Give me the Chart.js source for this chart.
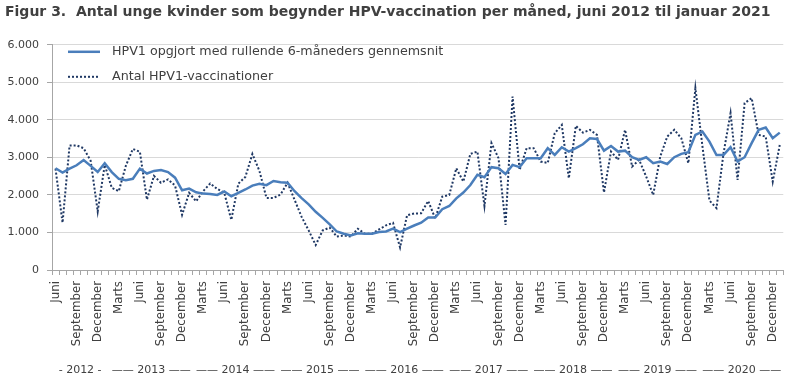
<!DOCTYPE html>
<html><head><meta charset="utf-8">
<script src="https://cdn.jsdelivr.net/npm/chart.js@4"></script>
<style>html,body{margin:0;padding:0;background:#fff}#wrap{width:800px;height:381px}</style>
</head><body><div id="wrap"><canvas id="c" width="800" height="381"></canvas></div>
<script>
const titleText = 'Figur 3.  Antal unge kvinder som begynder HPV-vaccination per måned, juni 2012 til januar 2021';
const monthNames = ['Januar','Februar','Marts','April','Maj','Juni','Juli','August','September','Oktober','November','December'];
const startYear = 2012;
const startMonthIndex = 5; // juni
const shownMonths = ['Juni','September','December','Marts'];

const rollingAvg = [
  2710,2595,2700,2790,2930,2775,2610,
  2845,2610,2430,2395,2430,2700,2570,2640,2665,2610,2460,2125,
  2170,2070,2035,2025,2000,2090,1965,2055,2145,2250,2300,2260,
  2370,2340,2325,2100,1915,1750,1550,1390,1215,1025,965,920,
  980,965,965,1010,1025,1100,1010,1100,1185,1260,1400,1400,
  1620,1705,1910,2065,2265,2535,2470,2740,2710,2560,2800,2740,
  2980,2975,2980,3245,3065,3270,3155,3245,3350,3510,3490,3180,
  3305,3155,3180,3005,2935,3005,2845,2890,2825,3005,3095,3140,
  3600,3690,3420,3065,3065,3270,2890,3005,3380,3735,3795,3510,
  3660
];
const vaccinations = [
  2700,1260,3315,3320,3245,2910,1560,
  2800,2190,2100,2775,3225,3150,1875,2505,2325,2415,2250,1470,
  2055,1830,2100,2305,2160,2055,1335,2300,2480,3090,2640,1920,
  1920,2010,2325,1870,1415,1055,665,1055,1130,890,920,890,
  1100,965,965,1080,1190,1255,600,1460,1505,1510,1840,1375,
  1955,2000,2710,2355,3095,3155,1705,3380,2980,1200,4620,2665,
  3245,3245,2890,2850,3645,3865,2445,3840,3660,3735,3600,2065,
  3155,2935,3735,2755,2935,2490,2000,3020,3555,3735,3510,2845,
  4845,3300,1850,1650,3110,4180,2400,4445,4580,3600,3555,2355,
  3330
];
const yearLabels = ['- 2012 -','—— 2013 ——','—— 2014 ——','—— 2015 ——','—— 2016 ——','—— 2017 ——','—— 2018 ——','—— 2019 ——','—— 2020 ——'];
const labelledYears = [2012,2013,2014,2015,2016,2017,2018,2019,2020];
const yTicks = [0,1000,2000,3000,4000,5000,6000];

const categories = [];
const categoryYears = [];
for (let i = 0; i < rollingAvg.length; i++) {
  const k = startMonthIndex + i;
  categories.push(monthNames[k % 12]);
  categoryYears.push(startYear + Math.floor(k / 12));
}

const FONT = 'DejaVu Sans';
const TEXT = '#404040';
const fmt = v => String(v).replace(/\B(?=(\d{3})+(?!\d))/g, '.');

const legendPlugin = {
  id: 'insideLegend',
  afterDraw(chart) {
    const {ctx, chartArea} = chart;
    ctx.save();
    chart.data.datasets.forEach((ds, i) => {
      const y = chartArea.top + 7 + i * 25;
      const x0 = chartArea.left + 16;
      ctx.beginPath();
      ctx.strokeStyle = ds.borderColor;
      ctx.lineWidth = ds.borderWidth;
      ctx.setLineDash(ds.borderDash || []);
      ctx.moveTo(x0, y);
      ctx.lineTo(x0 + 32, y);
      ctx.stroke();
      ctx.setLineDash([]);
      ctx.fillStyle = TEXT;
      ctx.font = '12.7px "' + FONT + '"';
      ctx.textBaseline = 'middle';
      ctx.textAlign = 'left';
      ctx.fillText(ds.label, x0 + 44, y);
    });
    ctx.restore();
  }
};

const yearPlugin = {
  id: 'yearRow',
  afterDraw(chart) {
    const {ctx} = chart;
    const xs = chart.scales.x;
    const step = xs.getPixelForValue(1) - xs.getPixelForValue(0);
    ctx.save();
    ctx.fillStyle = TEXT;
    ctx.font = '11px "' + FONT + '"';
    ctx.textBaseline = 'middle';
    ctx.textAlign = 'center';
    labelledYears.forEach((yr, j) => {
      const first = categoryYears.indexOf(yr);
      const last = categoryYears.lastIndexOf(yr);
      const mid = (first + last) / 2;
      const shift = (last - first) >= 11 ? 1.1 * step : 0.5 * step;
      ctx.fillText(yearLabels[j], xs.getPixelForValue(mid) + shift, 370);
    });
    ctx.restore();
  }
};

new Chart(document.getElementById('c'), {
  type: 'line',
  data: {
    labels: categories,
    datasets: [
      {label: 'HPV1 opgjort med rullende 6-måneders gennemsnit', data: rollingAvg,
       borderColor: '#4A7EBB', borderWidth: 2.5, pointRadius: 0, tension: 0, fill: false},
      {label: 'Antal HPV1-vaccinationer', data: vaccinations,
       borderColor: '#1F3864', borderWidth: 2, borderDash: [2, 2], pointRadius: 0, tension: 0, fill: false}
    ]
  },
  options: {
    responsive: false,
    animation: false,
    events: [],
    layout: {padding: {left: 5, right: 15, top: 0, bottom: 33}},
    plugins: {
      legend: {display: false},
      tooltip: {enabled: false},
      title: {display: true, text: titleText, align: 'start', color: TEXT,
              font: {family: FONT, size: 14, weight: 'bold'}, padding: {top: 4, bottom: 24}}
    },
    scales: {
      x: {
        offset: true,
        afterFit: s => { s.height = 78; },
        grid: {display: true, drawOnChartArea: false, drawTicks: true, tickLength: 5, offset: true, color: '#a6a6a6'},
        border: {color: '#a6a6a6'},
        ticks: {autoSkip: false, maxRotation: 90, minRotation: 90, padding: 6, color: TEXT,
                font: {family: FONT, size: 11.8},
                callback: (v, i) => shownMonths.includes(categories[i]) && i % 3 === 0 ? categories[i] : ''}
      },
      y: {
        min: 0, max: 6000,
        afterFit: s => { s.width = 47; },
        afterBuildTicks: s => { s.ticks = yTicks.map(v => ({value: v})); },
        grid: {color: '#d9d9d9', tickColor: '#a6a6a6', tickLength: 5},
        border: {color: '#a6a6a6'},
        ticks: {padding: 8, color: TEXT, font: {family: FONT, size: 11}, callback: v => fmt(v)}
      }
    }
  },
  plugins: [legendPlugin, yearPlugin]
});
</script></body></html>
